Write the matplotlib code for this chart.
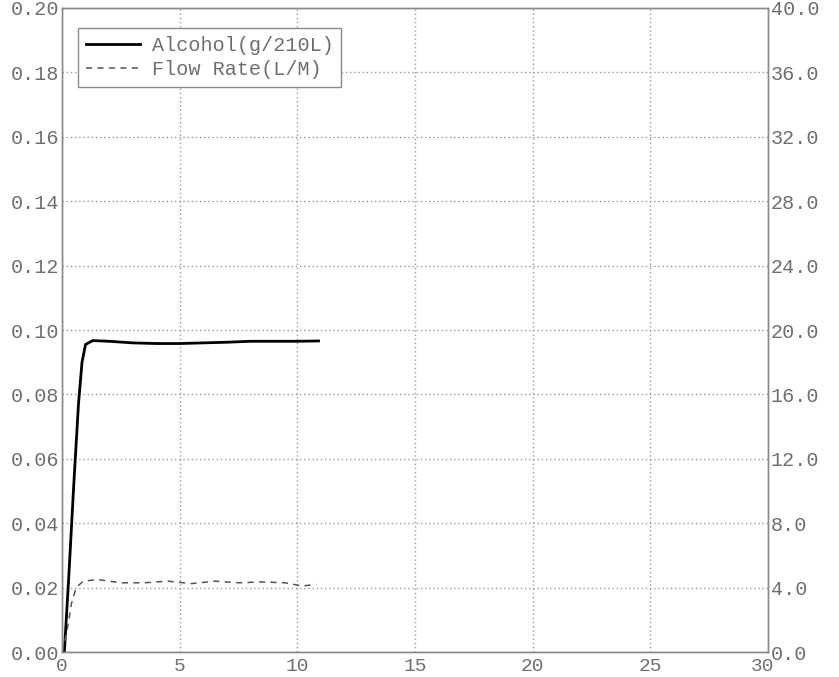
import numpy as np
import matplotlib
matplotlib.use("Agg")
import matplotlib.pyplot as plt
import matplotlib.transforms as mtransforms

plt.rcParams['font.family'] = ['Liberation Mono', 'DejaVu Sans Mono']

# alcohol reading (g/210L) against time, left axis
alc_t = [0.0, 0.1, 0.3, 0.5, 0.7, 0.85, 1.0, 1.3, 2.0, 3.0, 4.0, 5.0, 6.0, 7.0, 8.0, 9.0, 10.0, 10.9]
alc_v = [0.0, 0.0, 0.025, 0.052, 0.077, 0.090, 0.0955, 0.0967, 0.0965, 0.0960, 0.0958, 0.0958, 0.0960, 0.0962, 0.0965, 0.0965, 0.0965, 0.0966]

# flow rate (L/M) against time, right axis
flow_t = [0.0, 0.2, 0.4, 0.6, 0.9, 1.5, 2.5, 3.5, 4.5, 5.5, 6.5, 7.5, 8.5, 9.5, 10.2, 10.8]
flow_v = [0.0, 1.2, 3.0, 4.0, 4.4, 4.5, 4.3, 4.3, 4.4, 4.25, 4.4, 4.3, 4.35, 4.3, 4.1, 4.2]

x_ticks = np.arange(0, 31, 5)
left_ticks = np.arange(0, 0.201, 0.02)
right_ticks = np.arange(0, 40.1, 4)

txt = '#6e6e6e'
edge = '#8a8a8a'

fig = plt.figure(figsize=(8.39, 6.77), dpi=100)
ax = fig.add_axes([0.0739, 0.0369, 0.8415, 0.9513])
ax2 = ax.twinx()

l1, = ax.plot(alc_t, alc_v, color='black', lw=2.0, label='Alcohol(g/210L)')
l2, = ax2.plot(flow_t, flow_v, color='#555555', lw=1.1, dashes=(4, 3.5), label='Flow Rate(L/M)')

ax.set_xlim(0, 30)
ax.set_ylim(0, 0.20)
ax2.set_ylim(0, 40)
ax.set_xticks(x_ticks)
ax.set_yticks(left_ticks)
ax2.set_yticks(right_ticks)
ax.set_yticklabels([f'{v:.2f}' for v in left_ticks])
ax2.set_yticklabels([f'{v:.1f}' for v in right_ticks])
ax.set_xticklabels([str(v) for v in x_ticks])

ax.grid(True, color='#9a9a9a', linestyle=(0, (1, 2)), lw=1.0)
for a in (ax, ax2):
    a.tick_params(length=0, labelsize=14.5, labelcolor=txt, pad=2)
    for s in a.spines.values():
        s.set_color(edge)
        s.set_linewidth(1.0)
ax.tick_params(axis='x', pad=4, labelsize=14)

# nudge the last x label left so it clears the right-axis "0.0"
last = ax.get_xticklabels()[-1]
last.set_transform(last.get_transform() + mtransforms.ScaledTranslation(-5 / 100, 0, fig.dpi_scale_trans))

leg = ax.legend(handles=[l1, l2], loc='upper left', bbox_to_anchor=(0.0227, 0.969),
                borderaxespad=0, fancybox=False, edgecolor=edge, framealpha=1,
                fontsize=14.5, handlelength=2.7, handletextpad=0.55,
                labelspacing=0.25, borderpad=0.4)
for t in leg.get_texts():
    t.set_color(txt)
leg.get_frame().set_linewidth(1.0)

fig.savefig('out.png', dpi=100, facecolor='white')
